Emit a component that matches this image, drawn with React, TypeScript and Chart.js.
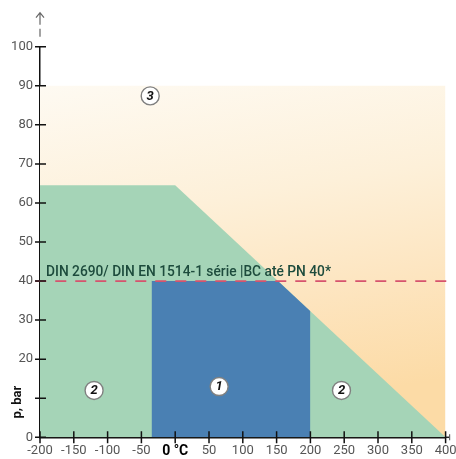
import { useEffect, useRef } from 'react';
import { Chart, registerables } from 'chart.js';

Chart.register(...registerables);

// ---- data ----
const xTickValues = [-200, -150, -100, -50, 0, 50, 100, 150, 200, 250, 300, 350, 400];
const yTickValues = [0, 10, 20, 30, 40, 50, 60, 70, 80, 90, 100];
const zone3X = [-200, 400];
const zone3Y = [90, 90];
const zone2X = [-200, 0, 400];
const zone2Y = [64.5, 64.5, 0];
const zone1X = [-35, 152, 200];
const zone1Y = [40, 40, 32.25];
const limitX = [-207, 407];
const limitY = [40, 40];
const zoneLabels = ['3', '1', '2', '2'];
const zoneLabelX = [-37, 65, -120, 246];
const zoneLabelY = [87.4, 13, 12, 12];
const limitText = 'DIN 2690/ DIN EN 1514-1 série |BC até PN 40*';
const yTitle = 'p, bar';
const zeroLabel = '0 °C';

const FONT = 'Roboto, "DejaVu Sans", sans-serif';

const pts = (xs: number[], ys: number[]) => xs.map((x, i) => ({ x, y: ys[i] }));

const overlay = {
  id: 'overlay',
  afterDraw(chart: any) {
    const { ctx, chartArea: a, scales } = chart;
    const xs = scales.x;
    const ys = scales.y;
    ctx.save();
    // axis extensions
    ctx.strokeStyle = '#222';
    ctx.lineWidth = 1.5;
    ctx.beginPath();
    ctx.moveTo(a.right, a.bottom);
    ctx.lineTo(a.right + 4, a.bottom);
    ctx.stroke();
    ctx.strokeStyle = '#666';
    ctx.lineWidth = 1.2;
    ctx.beginPath();
    ctx.moveTo(a.left, a.top - 10);
    ctx.lineTo(a.left, a.top - 18);
    ctx.moveTo(a.left, a.top - 22);
    ctx.lineTo(a.left, a.top - 34);
    ctx.moveTo(a.left - 4, a.top - 29);
    ctx.lineTo(a.left, a.top - 34);
    ctx.lineTo(a.left + 4, a.top - 29);
    ctx.stroke();
    ctx.beginPath();
    ctx.moveTo(a.right + 4, a.bottom - 3);
    ctx.lineTo(a.right + 4, a.bottom + 3);
    ctx.stroke();
    // tick marks crossing the axes
    ctx.strokeStyle = '#111';
    ctx.lineWidth = 1.5;
    ctx.beginPath();
    yTickValues.forEach((v) => {
      const p = ys.getPixelForValue(v);
      ctx.moveTo(a.left - 5, p);
      ctx.lineTo(a.left + 6, p);
    });
    xTickValues.forEach((v) => {
      const p = xs.getPixelForValue(v);
      ctx.moveTo(p, a.bottom - 6);
      ctx.lineTo(p, a.bottom + 6);
    });
    ctx.stroke();
    // limit text
    ctx.font = `500 14px ${FONT}`;
    const w = ctx.measureText(limitText).width;
    const sx = 285 / w;
    ctx.save();
    ctx.translate(xs.getPixelForValue(-200) + 6, ys.getPixelForValue(40) - 5);
    ctx.scale(sx, 1);
    ctx.fillStyle = '#1d4b3c';
    ctx.textAlign = 'left';
    ctx.textBaseline = 'alphabetic';
    ctx.fillText(limitText, 0, 0);
    ctx.restore();
    // zone numbers
    const meta = chart.getDatasetMeta(4);
    ctx.font = `italic bold 13px ${FONT}`;
    ctx.fillStyle = '#111';
    ctx.textAlign = 'center';
    ctx.textBaseline = 'middle';
    meta.data.forEach((el: any, i: number) => {
      ctx.fillText(zoneLabels[i], el.x, el.y + 0.5);
    });
    // y title
    ctx.save();
    ctx.translate(a.left - 22, ys.getPixelForValue(9));
    ctx.rotate(-Math.PI / 2);
    ctx.font = `bold 13px ${FONT}`;
    ctx.fillStyle = '#111';
    ctx.textAlign = 'center';
    ctx.textBaseline = 'middle';
    ctx.fillText(yTitle, 0, 0);
    ctx.restore();
    ctx.restore();
  },
};

export default function App() {
  const ref = useRef<HTMLCanvasElement>(null);
  useEffect(() => {
    const canvas = ref.current!;
    const orangeFill = (c: any) => {
      const chart = c.chart;
      const a = chart.chartArea;
      if (!a) return '#fdebc8';
      const top = chart.scales.y.getPixelForValue(90);
      const g = chart.ctx.createLinearGradient(a.left, top, a.left + 60, a.bottom);
      g.addColorStop(0, '#fefaf2');
      g.addColorStop(0.4, '#fdf0d9');
      g.addColorStop(0.7, '#fde5c0');
      g.addColorStop(1, '#fcdba6');
      return g;
    };
    const chart = new Chart(canvas, {
      type: 'line',
      data: {
        datasets: [
          {
            data: pts(zone3X, zone3Y),
            fill: 'origin',
            backgroundColor: orangeFill,
            borderWidth: 0,
            pointRadius: 0,
            order: 5,
          } as any,
          {
            data: pts(zone2X, zone2Y),
            fill: 'origin',
            backgroundColor: '#a5d4b7',
            borderWidth: 0,
            pointRadius: 0,
            order: 4,
          },
          {
            data: pts(zone1X, zone1Y),
            fill: 'origin',
            backgroundColor: '#4a80b3',
            borderWidth: 0,
            pointRadius: 0,
            order: 3,
          },
          {
            data: pts(limitX, limitY),
            fill: false,
            borderColor: '#d6536e',
            borderWidth: 1.8,
            borderDash: [11, 9],
            pointRadius: 0,
            clip: false,
            order: 2,
          } as any,
          {
            type: 'scatter',
            data: pts(zoneLabelX, zoneLabelY),
            showLine: false,
            pointRadius: 9,
            backgroundColor: '#ffffff',
            borderColor: '#808080',
            borderWidth: 1.4,
            order: 1,
          } as any,
        ],
      },
      options: {
        responsive: false,
        animation: false,
        devicePixelRatio: 1,
        events: [],
        layout: { padding: { left: 0, right: 8.3, top: 46.7, bottom: 0 } },
        plugins: { legend: { display: false }, tooltip: { enabled: false } },
        scales: {
          x: {
            type: 'linear',
            position: 'bottom',
            min: -200,
            max: 400,
            z: 1,
            afterFit: (s: any) => {
              s.height = 21.7;
              s.paddingLeft = 0;
              s.paddingRight = 0;
            },
            grid: { display: false, drawTicks: false },
            border: { color: '#111', width: 1.5 },
            ticks: {
              stepSize: 50,
              autoSkip: false,
              maxRotation: 0,
              padding: 6,
              callback: (v: any) => (v === 0 ? zeroLabel : String(v)),
              font: (c: any) =>
                c.tick && c.tick.value === 0
                  ? { family: FONT, size: 14, weight: 'bold' }
                  : { family: FONT, size: 13 },
              color: (c: any) => (c.tick && c.tick.value === 0 ? '#000' : '#555'),
            },
          } as any,
          y: {
            type: 'linear',
            min: 0,
            max: 100,
            z: 1,
            afterFit: (s: any) => {
              s.width = 40;
              s.paddingTop = 0;
              s.paddingBottom = 0;
            },
            grid: { display: false, drawTicks: false },
            border: { color: '#111', width: 1.5 },
            ticks: {
              stepSize: 10,
              autoSkip: false,
              padding: 7,
              callback: (v: any) => (v === 10 ? '' : String(v)),
              font: { family: FONT, size: 13 },
              color: '#555',
            },
          } as any,
        },
      },
      plugins: [overlay],
    });
    return () => chart.destroy();
  }, []);
  return (
    <div style={{ position: 'absolute', left: 0, top: 0, width: 456, height: 459, background: '#fff' }}>
      <canvas ref={ref} width={456} height={459} style={{ display: 'block' }} />
    </div>
  );
}
